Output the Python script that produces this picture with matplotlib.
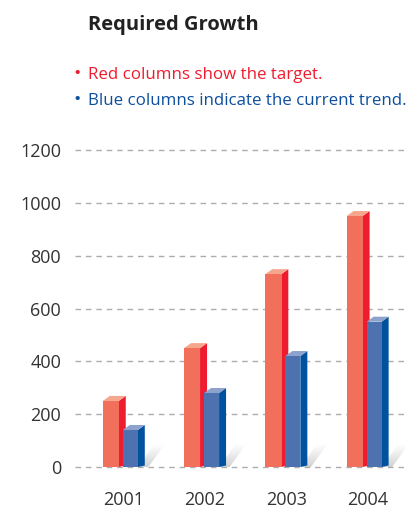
import matplotlib
matplotlib.use("Agg")
import matplotlib.pyplot as plt
import numpy as np

years = ["2001", "2002", "2003", "2004"]
target = [250, 450, 730, 950]
trend = [140, 280, 420, 550]
yticks = [0, 200, 400, 600, 800, 1000, 1200]

plt.rcParams['font.family'] = ['Open Sans', 'DejaVu Sans']

fig = plt.figure(figsize=(4.11, 5.09), dpi=100)
ax = fig.add_axes([75 / 411, (509 - 467) / 509, 330 / 411, 317 / 509])

x = np.arange(len(years))
w_r, w_b = 0.197, 0.185
off_r, off_b = -0.16, 0.08
dx, dy = 0.086, 19

red_front, red_side, red_top = "#f2705b", "#ee1c2e", "#f7a68e"
blue_front, blue_side, blue_top = "#4e72b0", "#00519e", "#8da2cd"

ax.set_ylim(0, 1200)
ax.set_xlim(-0.6, 3.46)

for y in yticks:
    ax.axhline(y, color="#adadad", lw=1.0, ls=(0, (4, 3.5)), zorder=0, clip_on=False)


def draw_bar(xc, h, w, fc, sc, tc, z):
    x0 = xc - w / 2
    x1 = xc + w / 2
    ax.bar(xc, h, width=w, color=fc, zorder=z + 0.2, linewidth=0)
    ax.fill([x1, x1 + dx, x1 + dx, x1], [0, dy * 0.3, h + dy, h], color=sc, zorder=z + 0.1, lw=0)
    ax.fill([x0, x1, x1 + dx, x0 + dx], [h, h, h + dy, h + dy], color=tc, zorder=z + 0.1, lw=0)


def draw_shadow(xs):
    n = 12
    H = 85
    run = 0.2
    wid = 0.13
    for i in range(n):
        t0, t1 = i / n, (i + 1) / n
        a = 0.45 * (1 - t0) ** 1.2
        xa0, xa1 = xs + run * t0, xs + run * t1
        ax.fill([xa0, xa0 + wid, xa1 + wid, xa1],
                [H * t0, H * t0, H * t1, H * t1], color="#9a9a9a", alpha=a, lw=0, zorder=1)


for i in range(len(years)):
    draw_shadow(x[i] + off_b + w_b / 2)
    draw_bar(x[i] + off_r, target[i], w_r, red_front, red_side, red_top, 2)
    draw_bar(x[i] + off_b, trend[i], w_b, blue_front, blue_side, blue_top, 3)

ax.set_yticks(yticks)
ax.set_yticklabels([str(v) for v in yticks], fontsize=13, color="#333333")
ax.set_xticks(x)
ax.set_xticklabels(years, fontsize=13, color="#333333")
ax.tick_params(axis="both", length=0)
ax.tick_params(axis="y", pad=10)
ax.tick_params(axis="x", pad=17)
for s in ax.spines.values():
    s.set_visible(False)
ax.patch.set_alpha(0)

fig.text(88 / 411, 1 - 25 / 509, "Required Growth", fontsize=14.5, fontweight="bold",
         color="#222222", va="center", ha="left")
fig.text(73 / 411, 1 - 74 / 509, "\u2022", fontsize=14, color="#ee1c2e", va="center", ha="left")
fig.text(88 / 411, 1 - 75 / 509, "Red columns show the target.", fontsize=12.2,
         color="#ee1c2e", va="center", ha="left")
fig.text(73 / 411, 1 - 100 / 509, "\u2022", fontsize=14, color="#0d4f9e", va="center", ha="left")
fig.text(88 / 411, 1 - 101 / 509, "Blue columns indicate the current trend.", fontsize=12.2,
         color="#0d4f9e", va="center", ha="left")

fig.savefig("out.png", dpi=100)
